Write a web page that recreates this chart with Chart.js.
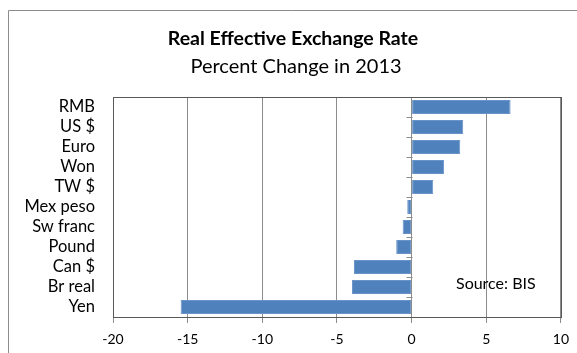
<!DOCTYPE html>
<html>
<head>
<meta charset="utf-8">
<script src="https://cdn.jsdelivr.net/npm/chart.js@4/dist/chart.umd.min.js"></script>
<style>
  html, body { margin: 0; padding: 0; background: #fff; }
  #wrap { width: 577px; height: 353px; position: relative; }
</style>
</head>
<body>
<div id="wrap"><canvas id="reerChart"></canvas></div>
<script>
// REER change by currency, 2013 (%)
const currencies = ["RMB", "US $", "Euro", "Won", "TW $", "Mex peso", "Sw franc", "Pound", "Can $", "Br real", "Yen"];
const pctChange = [6.63, 3.46, 3.26, 2.18, 1.45, -0.29, -0.6, -1.03, -3.86, -3.99, -15.47];
const xTicks = [-20, -15, -10, -5, 0, 5, 10];

const titleText = "Real Effective Exchange Rate";
const subtitleText = "Percent Change in 2013";
const sourceText = "Source: BIS";

const FONT = "Lato, 'Open Sans', sans-serif";

// outer frame, headings, plot box and the little category ticks on the zero line
const decorations = {
  id: "decorations",
  beforeDraw(chart) {
    const ctx = chart.ctx;
    ctx.save();
    ctx.fillStyle = "#fff";
    ctx.fillRect(0, 0, chart.width, chart.height);
    ctx.strokeStyle = "#8c8c8c";
    ctx.lineWidth = 1;
    ctx.beginPath();
    ctx.moveTo(8.5, chart.height);
    ctx.lineTo(8.5, 10.5);
    ctx.lineTo(chart.width, 10.5);
    ctx.stroke();

    ctx.fillStyle = "#000";
    ctx.textAlign = "center";
    ctx.textBaseline = "alphabetic";
    ctx.font = "bold 19.5px " + FONT;
    ctx.fillText(titleText, 293, 45);
    ctx.font = "20px " + FONT;
    ctx.fillText(subtitleText, 296, 73);
    ctx.restore();
  },
  afterDatasetsDraw(chart) {
    const { ctx, chartArea: a, scales } = chart;
    ctx.save();
    // category tick marks on the zero axis
    const x0 = Math.round(scales.x.getPixelForValue(0)) + 0.5;
    ctx.strokeStyle = "#8c8c8c";
    ctx.lineWidth = 1;
    ctx.beginPath();
    for (let i = 0; i <= currencies.length; i++) {
      const y = Math.round(scales.y.getPixelForValue(i - 0.5)) + 0.5;
      ctx.moveTo(x0 - 6, y);
      ctx.lineTo(x0, y);
    }
    ctx.stroke();

    ctx.strokeStyle = "#595959";
    ctx.strokeRect(Math.round(a.left) + 0.5, Math.round(a.top) + 0.5,
      Math.round(a.right - a.left), Math.round(a.bottom - a.top));

    ctx.fillStyle = "#000";
    ctx.font = "16px " + FONT;
    ctx.textAlign = "left";
    ctx.textBaseline = "alphabetic";
    ctx.fillText(sourceText, 456, 289);
    ctx.restore();
  }
};

new Chart(document.getElementById("reerChart"), {
  type: "bar",
  data: {
    labels: currencies,
    datasets: [{
      data: pctChange,
      backgroundColor: "#4f81bd",
      borderColor: "#6a94c9",
      borderWidth: 1,
      borderSkipped: false,
      categoryPercentage: 1,
      barPercentage: 0.7
    }]
  },
  options: {
    indexAxis: "y",
    responsive: true,
    maintainAspectRatio: false,
    animation: false,
    layout: { padding: { top: 97, right: 16, left: 0, bottom: 0 } },
    plugins: {
      legend: { display: false },
      tooltip: { enabled: false }
    },
    scales: {
      x: {
        min: -20,
        max: 10,
        afterBuildTicks: s => { s.ticks = xTicks.map(v => ({ value: v })); },
        afterFit: s => { s.height = 36; },
        grid: {
          color: "#8c8c8c",
          lineWidth: 1,
          drawTicks: true,
          tickLength: 6
        },
        border: { display: false },
        ticks: {
          color: "#000",
          padding: 8,
          font: { family: FONT, size: 14 },
          maxRotation: 0
        }
      },
      y: {
        afterFit: s => { s.width = 113; },
        grid: { display: false, drawTicks: false },
        border: { display: false },
        ticks: {
          color: "#000",
          padding: 18,
          autoSkip: false,
          font: { family: FONT, size: 16.5 }
        }
      }
    }
  },
  plugins: [decorations]
});
</script>
</body>
</html>
